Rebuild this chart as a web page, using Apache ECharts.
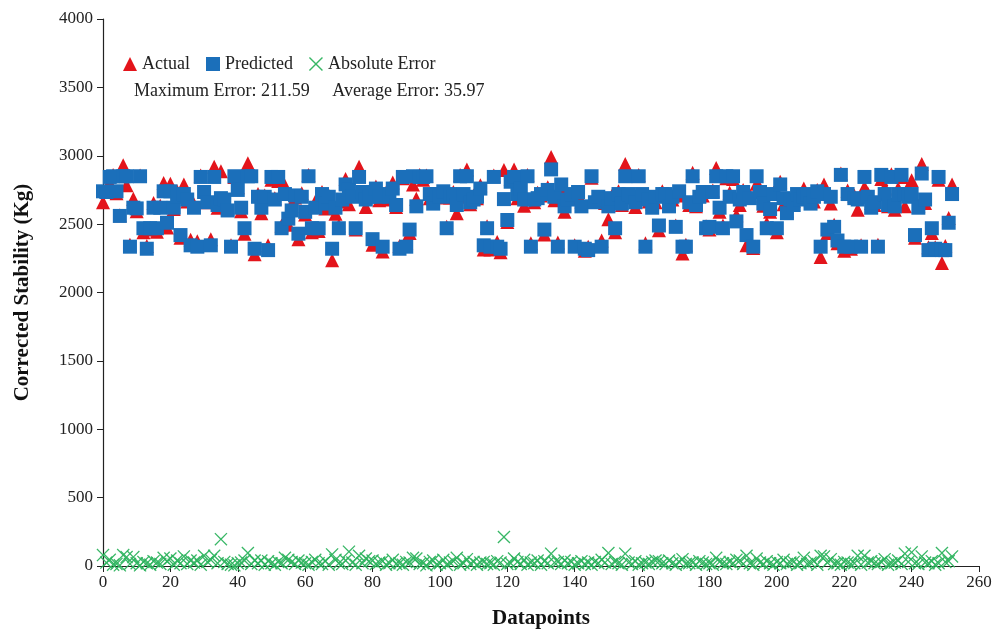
<!DOCTYPE html>
<html>
<head>
<meta charset="utf-8">
<script src="https://cdn.jsdelivr.net/npm/echarts@6/dist/echarts.min.js"></script>
<style>html,body{margin:0;padding:0;background:#fff}#c{width:999px;height:641px}</style>
</head>
<body>
<div id="c"></div>
<script>
const predicted = [
2740,2735,2845,2850,2740,2560,2850,2850,2335,2620,
2615,2850,2470,2320,2470,2620,2470,2620,2740,2510,
2740,2620,2700,2420,2720,2680,2345,2620,2335,2845,
2735,2660,2345,2845,2640,2690,2680,2600,2335,2850,
2750,2620,2470,2850,2850,2320,2700,2620,2700,2310,
2845,2680,2845,2470,2720,2540,2600,2710,2430,2700,
2590,2850,2470,2620,2470,2720,2650,2700,2320,2620,
2470,2680,2790,2750,2700,2470,2845,2735,2680,2700,
2390,2760,2700,2335,2720,2700,2760,2640,2320,2845,
2335,2460,2850,2630,2845,2845,2850,2720,2650,2720,
2700,2740,2470,2720,2700,2640,2850,2720,2850,2660,
2680,2700,2760,2345,2470,2335,2845,2335,2320,2683,
2530,2810,2845,2720,2760,2680,2850,2335,2680,2690,
2720,2460,2750,2900,2700,2335,2790,2630,2680,2720,
2335,2735,2630,2320,2310,2850,2660,2700,2335,2680,
2630,2690,2470,2720,2650,2850,2720,2700,2660,2850,
2720,2335,2680,2620,2700,2490,2720,2720,2630,2700,
2480,2740,2335,2335,2660,2850,2640,2700,2735,2470,
2480,2735,2850,2620,2470,2850,2700,2850,2520,2680,
2735,2420,2690,2335,2850,2735,2650,2470,2610,2720,
2470,2790,2690,2580,2680,2640,2720,2680,2700,2720,
2650,2700,2740,2335,2720,2460,2700,2480,2380,2860,
2335,2720,2335,2690,2680,2335,2845,2700,2620,2660,
2335,2860,2720,2640,2845,2630,2720,2860,2720,2700,
2720,2420,2620,2870,2680,2310,2470,2320,2845,2310,
2310,2510,2720
];
const actual = [
2660,2760,2800,2860,2725,2565,2930,2785,2350,2685,
2595,2855,2440,2340,2460,2655,2445,2635,2800,2475,
2795,2610,2740,2400,2790,2665,2385,2645,2375,2855,
2660,2690,2390,2920,2620,2886,2650,2615,2345,2845,
2770,2595,2430,2945,2865,2280,2720,2580,2710,2345,
2825,2690,2815,2490,2780,2495,2630,2695,2390,2725,
2570,2860,2440,2665,2450,2735,2615,2710,2235,2575,
2490,2665,2830,2645,2725,2460,2920,2715,2625,2735,
2350,2775,2675,2300,2730,2680,2805,2625,2340,2835,
2365,2435,2790,2685,2860,2825,2855,2690,2690,2710,
2720,2695,2480,2695,2735,2580,2860,2700,2900,2645,
2710,2690,2785,2315,2485,2315,2855,2370,2295,2895,
2515,2830,2900,2690,2775,2635,2860,2360,2660,2730,
2710,2425,2770,2990,2675,2365,2775,2590,2700,2690,
2345,2715,2665,2305,2335,2840,2690,2680,2380,2655,
2535,2705,2440,2740,2640,2940,2695,2715,2625,2860,
2700,2360,2665,2650,2660,2455,2740,2705,2670,2680,
2490,2710,2285,2350,2640,2875,2630,2735,2710,2485,
2460,2745,2910,2590,2490,2835,2730,2830,2565,2640,
2750,2345,2710,2325,2795,2760,2635,2505,2590,2730,
2440,2810,2645,2595,2655,2670,2710,2700,2760,2705,
2675,2665,2750,2260,2790,2435,2650,2495,2360,2870,
2305,2745,2320,2710,2605,2345,2770,2725,2655,2640,
2350,2830,2770,2630,2865,2605,2760,2845,2630,2730,
2820,2400,2635,2940,2655,2330,2435,2330,2825,2215,
2340,2545,2790
];
const absError = [
80,25,45,10,15,5,80,65,15,65,
20,5,30,20,10,35,25,15,60,35,
55,10,40,20,70,15,40,25,40,10,
75,30,45,75,20,196,30,15,10,5,
20,25,40,95,15,40,20,40,10,35,
20,10,30,20,60,45,30,15,40,25,
20,10,30,45,20,15,35,10,85,45,
20,15,40,105,25,10,75,20,55,35,
40,15,25,35,10,20,45,15,20,10,
30,25,60,55,15,20,5,30,40,10,
20,45,10,25,35,60,10,20,50,15,
30,10,25,30,15,20,10,35,25,212,
15,20,55,30,15,45,10,25,20,40,
10,35,20,90,25,30,15,40,20,30,
10,20,35,15,25,10,30,20,45,25,
95,15,30,20,10,90,25,15,35,10,
20,25,15,30,40,35,20,15,40,20,
10,30,50,15,20,25,10,35,25,15,
20,10,60,30,20,15,30,20,45,40,
15,75,20,10,55,25,15,35,20,10,
30,20,45,15,25,30,10,20,60,15,
25,35,10,75,70,25,50,15,20,10,
30,25,15,20,75,10,75,25,35,20,
15,30,50,10,20,25,40,15,90,30,
100,20,15,70,25,20,35,10,20,95,
30,35,70
];
const seriesNames = ['Actual', 'Predicted', 'Absolute Error'];
const statsText = 'Maximum Error: 211.59     Average Error: 35.97';
const xTicks = {min: 0, max: 260, interval: 20};
const yTicks = {min: 0, max: 4000, interval: 500};

const pts = arr => arr.map((v, i) => [i, v]);
const font = 'Liberation Serif';
const xSym = 'path://M0,0.7L0.7,0L5,4.3L9.3,0L10,0.7L5.7,5L10,9.3L9.3,10L5,5.7L0.7,10L0,9.3L4.3,5Z';

const chart = echarts.init(document.getElementById('c'), null, {renderer: 'canvas'});
chart.setOption({
  backgroundColor: '#fff',
  animation: false,
  grid: {left: 103, right: 20, top: 19, bottom: 75},
  legend: {
    left: 118, top: 50, itemGap: 16, itemWidth: 14, itemHeight: 14,
    textStyle: {fontFamily: font, fontSize: 18, color: '#222'},
    data: seriesNames
  },
  graphic: [{
    type: 'text', left: 134, top: 82,
    style: {text: statsText, font: '18px "Liberation Serif"', fill: '#222'}
  }],
  xAxis: {
    type: 'value', min: xTicks.min, max: xTicks.max, interval: xTicks.interval,
    name: 'Datapoints', nameLocation: 'middle', nameGap: 42,
    nameTextStyle: {fontFamily: font, fontSize: 21, fontWeight: 'bold', color: '#111'},
    axisLine: {show: true, lineStyle: {color: '#222', width: 1.2}},
    axisTick: {show: true, inside: false, length: 6, lineStyle: {color: '#222'}},
    axisLabel: {fontFamily: font, fontSize: 17, color: '#222', margin: 8, formatter: v => String(v)},
    splitLine: {show: false}
  },
  yAxis: {
    type: 'value', min: yTicks.min, max: yTicks.max, interval: yTicks.interval,
    name: 'Corrected Stability (Kg)', nameLocation: 'middle', nameGap: 70,
    nameTextStyle: {fontFamily: font, fontSize: 21, fontWeight: 'bold', color: '#111'},
    axisLine: {show: true, lineStyle: {color: '#222', width: 1.2}},
    axisTick: {show: true, inside: false, length: 6, lineStyle: {color: '#222'}},
    axisLabel: {fontFamily: font, fontSize: 17, color: '#222', margin: 10, formatter: v => String(v)},
    splitLine: {show: false}
  },
  series: [
    {name: seriesNames[0], type: 'scatter', symbol: 'triangle', symbolSize: 14,
     itemStyle: {color: '#E3141B', opacity: 1}, data: pts(actual), z: 2},
    {name: seriesNames[1], type: 'scatter', symbol: 'rect', symbolSize: 14,
     itemStyle: {color: '#1B6FBA', opacity: 1}, data: pts(predicted), z: 3},
    {name: seriesNames[2], type: 'scatter', symbol: xSym, symbolSize: 13,
     itemStyle: {color: '#2DB35E', opacity: 0.95}, data: pts(absError), z: 4}
  ]
});
</script>
</body>
</html>
